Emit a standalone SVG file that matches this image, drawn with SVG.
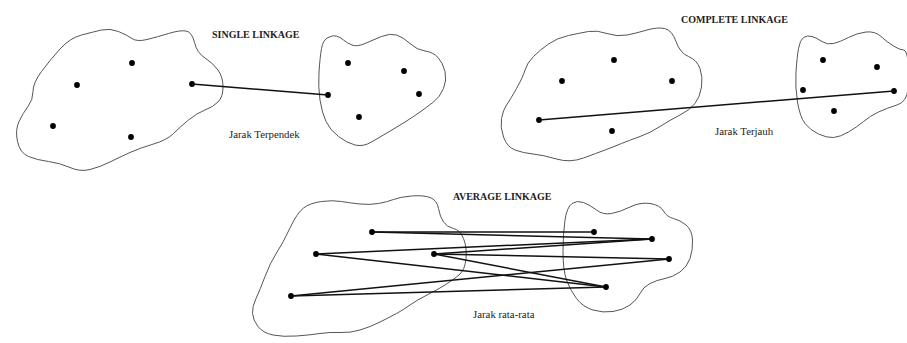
<svg xmlns="http://www.w3.org/2000/svg" width="907" height="343" viewBox="0 0 907 343">
  <style>
    .blob { fill: none; stroke: #555; stroke-width: 1; }
    .pt { fill: #000; }
    .link { stroke: #111; stroke-width: 1.5; fill: none; }
    .title { font-family: "Liberation Serif", "Times New Roman", serif; font-weight: bold; font-size: 10px; fill: #222; }
    .note { font-family: "Liberation Serif", "Times New Roman", serif; font-size: 10.8px; fill: #222; }
  </style>
  <rect width="907" height="343" fill="#fff"/>

  <!-- Single linkage -->
  <g id="single-title">
    <text class="title" x="212" y="38">SINGLE LINKAGE</text>
    <text class="note" x="229" y="138">Jarak Terpendek</text>
  </g>
  <g id="single-cluster-a">
    <path class="blob" d="M 33,91.5 Q 33,83 41.5,71.5 Q 50,60 60,49 Q 70,38 81.5,35 Q 93,32 101.5,30 Q 110,28 118.5,31.5 Q 127,35 132,38.5 Q 137,42 147,39.5 Q 157,37 168.5,33.5 Q 180,30 186,31 Q 192,32 194.5,42.5 Q 197,53 205,58 Q 213,63 218,70 Q 223,77 223,87 Q 223,97 218,102 Q 213,107 205,110 Q 197,113 188.5,120 Q 180,127 173.5,133.5 Q 167,140 153.5,144 Q 140,148 130,152.5 Q 120,157 110,162 Q 100,167 90,169.5 Q 80,172 70,167.5 Q 60,163 48.5,161.5 Q 37,160 28.5,156.5 Q 20,153 17.5,141.5 Q 15,130 19,121.5 Q 23,113 28,106.5 Q 33,100 33,91.5 Z"/>
    <circle class="pt" cx="132" cy="63" r="2.9"/>
    <circle class="pt" cx="77" cy="85" r="2.9"/>
    <circle class="pt" cx="192" cy="84" r="2.9"/>
    <circle class="pt" cx="53" cy="126" r="2.9"/>
    <circle class="pt" cx="131" cy="137" r="2.9"/>
  </g>
  <g id="single-cluster-b">
    <path class="blob" d="M 321.5,48.5 Q 323,40 328,37.5 Q 333,35 336.5,36 Q 340,37 343.5,40 Q 347,43 352,45 Q 357,47 365,43.5 Q 373,40 381.5,36.5 Q 390,33 396.5,35 Q 403,37 410,43.5 Q 417,50 425,51 Q 433,52 438,57.5 Q 443,63 445,71.5 Q 447,80 443.5,88.5 Q 440,97 433.5,102 Q 427,107 420,112 Q 413,117 405,122 Q 397,127 388.5,132 Q 380,137 371.5,142 Q 363,147 355,145 Q 347,143 338.5,136.5 Q 330,130 326,121.5 Q 322,113 320,100 Q 318,87 319,72 Q 320,57 321.5,48.5 Z"/>
    <circle class="pt" cx="348" cy="63" r="2.9"/>
    <circle class="pt" cx="404" cy="71" r="2.9"/>
    <circle class="pt" cx="419" cy="94" r="2.9"/>
    <circle class="pt" cx="328" cy="95" r="2.9"/>
    <circle class="pt" cx="359" cy="117" r="2.9"/>
  </g>

  <!-- Complete linkage -->
  <g id="complete-title">
    <text class="title" x="681" y="23">COMPLETE LINKAGE</text>
    <text class="note" x="715" y="135">Jarak Terjauh</text>
  </g>
  <g id="complete-cluster-a">
    <path class="blob" d="M 506.5,105 Q 510,100 516.5,88.5 Q 523,77 525,70 Q 527,63 533.5,56.5 Q 540,50 548.5,44 Q 557,38 568.5,35.5 Q 580,33 588.5,31.5 Q 597,30 607,33.5 Q 617,37 627,35 Q 637,33 647,30 Q 657,27 664.5,28.5 Q 672,30 676,41.5 Q 680,53 688.5,56.5 Q 697,60 700,68.5 Q 703,77 701.5,87 Q 700,97 695,103.5 Q 690,110 680,115 Q 670,120 660,126.5 Q 650,133 640,136.5 Q 630,140 621.5,143.5 Q 613,147 605,150 Q 597,153 583.5,158 Q 570,163 556.5,159 Q 543,155 533,154 Q 523,153 515,150 Q 507,147 503.5,137 Q 500,127 501.5,118.5 Q 503,110 506.5,105 Z"/>
    <circle class="pt" cx="614" cy="60" r="2.9"/>
    <circle class="pt" cx="562" cy="81" r="2.9"/>
    <circle class="pt" cx="672" cy="81" r="2.9"/>
    <circle class="pt" cx="539" cy="120" r="2.9"/>
    <circle class="pt" cx="612" cy="131" r="2.9"/>
  </g>
  <g id="complete-cluster-b">
    <path class="blob" d="M 798.5,48.5 Q 800,40 803.5,37.5 Q 807,35 812,36.5 Q 817,38 822,41.5 Q 827,45 833.5,43.5 Q 840,42 848.5,37.5 Q 857,33 866,32 Q 875,31 881,36.5 Q 887,42 893.5,46 Q 900,50 903.5,50 Q 907,50 908,62.5 Q 909,75 908,88.5 Q 907,102 897,105 Q 887,108 878.5,112 Q 870,116 863.5,121.5 Q 857,127 848.5,132 Q 840,137 833.5,137.5 Q 827,138 818.5,134 Q 810,130 805,123.5 Q 800,117 797.5,102 Q 795,87 796,72 Q 797,57 798.5,48.5 Z"/>
    <circle class="pt" cx="823" cy="60" r="2.9"/>
    <circle class="pt" cx="877" cy="67" r="2.9"/>
    <circle class="pt" cx="803" cy="90" r="2.9"/>
    <circle class="pt" cx="894" cy="91" r="2.9"/>
    <circle class="pt" cx="834" cy="111" r="2.9"/>
  </g>

  <!-- Average linkage -->
  <g id="average-title">
    <text class="title" x="453" y="200">AVERAGE LINKAGE</text>
    <text class="note" x="473" y="318">Jarak rata-rata</text>
  </g>
  <g id="average-cluster-a">
    <path class="blob" d="M 256,298.5 Q 260,290 265,276.5 Q 270,263 276.5,253 Q 283,243 290,228 Q 297,213 303.5,208 Q 310,203 321.5,201.5 Q 333,200 341.5,201.5 Q 350,203 360,204 Q 370,205 378.5,203.5 Q 387,202 393.5,199.5 Q 400,197 411.5,196 Q 423,195 430,197.5 Q 437,200 438.5,208.5 Q 440,217 443.5,222 Q 447,227 453.5,228.5 Q 460,230 463.5,238.5 Q 467,247 466,258.5 Q 465,270 459,275 Q 453,280 445,285 Q 437,290 427,295 Q 417,300 410,305 Q 403,310 396.5,313.5 Q 390,317 380,322 Q 370,327 360,330 Q 350,333 340,332.5 Q 330,332 320,333.5 Q 310,335 296.5,336 Q 283,337 273,335 Q 263,333 258,326.5 Q 253,320 252.5,313.5 Q 252,307 256,298.5 Z"/>
  </g>
  <g id="average-cluster-b">
    <path class="blob" d="M 565,220 Q 567,207 572,203.5 Q 577,200 583.5,202.5 Q 590,205 596.5,210 Q 603,215 611.5,213.5 Q 620,212 630,207 Q 640,202 650,203.5 Q 660,205 663.5,211 Q 667,217 673.5,218.5 Q 680,220 686,225 Q 692,230 692.5,240 Q 693,250 690,258.5 Q 687,267 680,272 Q 673,277 665,278.5 Q 657,280 650,283.5 Q 643,287 640,293.5 Q 637,300 630,305 Q 623,310 613,311.5 Q 603,313 593,310 Q 583,307 576.5,298.5 Q 570,290 566.5,280 Q 563,270 563,251.5 Q 563,233 565,220 Z"/>
  </g>

  <!-- Connectors between clusters -->
  <g id="connectors">
    <line class="link" x1="192" y1="84" x2="328" y2="95"/>
    <line class="link" x1="539" y1="120" x2="894" y2="91"/>
    <line class="link" x1="372" y1="232" x2="594" y2="232"/>
    <line class="link" x1="372" y1="232" x2="652" y2="239"/>
    <line class="link" x1="316" y1="254" x2="652" y2="239"/>
    <line class="link" x1="434" y1="254" x2="652" y2="239"/>
    <line class="link" x1="434" y1="254" x2="669" y2="259"/>
    <line class="link" x1="434" y1="254" x2="606" y2="287"/>
    <line class="link" x1="316" y1="254" x2="606" y2="287"/>
    <line class="link" x1="291" y1="296" x2="669" y2="259"/>
    <line class="link" x1="291" y1="296" x2="606" y2="287"/>
  </g>

  <!-- Average linkage points drawn over the connectors -->
  <g id="average-points">
    <circle class="pt" cx="372" cy="232" r="2.9"/>
    <circle class="pt" cx="316" cy="254" r="2.9"/>
    <circle class="pt" cx="434" cy="254" r="2.9"/>
    <circle class="pt" cx="291" cy="296" r="2.9"/>
    <circle class="pt" cx="594" cy="232" r="2.9"/>
    <circle class="pt" cx="652" cy="239" r="2.9"/>
    <circle class="pt" cx="669" cy="259" r="2.9"/>
    <circle class="pt" cx="606" cy="287" r="2.9"/>
  </g>
</svg>
